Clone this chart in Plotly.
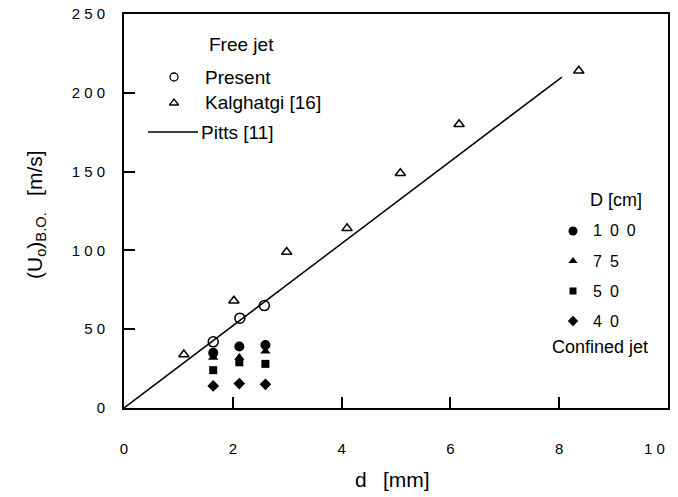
import plotly.graph_objects as go

# ---- data ----
present_d = [1.64, 2.13, 2.58]
present_u = [42, 57, 65]

kalghatgi_d = [1.10, 2.02, 2.99, 4.10, 5.08, 6.16, 8.36]
kalghatgi_u = [34, 68, 99, 114, 149, 180, 214]

pitts_d = [0, 8.05]
pitts_u = [0, 210]

confined_d = [1.64, 2.12, 2.60]
conf_100 = [35, 39, 40]
conf_75 = [32, 32, 36]
conf_50 = [24, 29, 28]
conf_40 = [14, 15.5, 15]

x_ticks = [0, 2, 4, 6, 8, 10]
x_ticktext = ["0", "2", "4", "6", "8", "1 0"]
y_ticks = [0, 50, 100, 150, 200, 250]
y_ticktext = ["0", "5 0", "1 0 0", "1 5 0", "2 0 0", "2 5 0"]

D_labels = ["1\u20020\u20020", "7\u20025", "5\u20020", "4\u20020"]

FONT = "Liberation Sans, Arial, Helvetica, sans-serif"
BLK = "black"

# plot area in pixels
L, R, T, B = 124, 668, 14, 408


def px(x):
    return (x - L) / (R - L)


def py(y):
    return (B - y) / (B - T)


fig = go.Figure()

fig.add_trace(go.Scatter(x=pitts_d, y=pitts_u, mode="lines",
                         line=dict(color=BLK, width=1.5), showlegend=False))
fig.add_trace(go.Scatter(x=kalghatgi_d, y=kalghatgi_u, mode="markers",
                         marker=dict(symbol="triangle-up-open", size=9, color=BLK,
                                     line=dict(width=1.5)), showlegend=False))
fig.add_trace(go.Scatter(x=present_d, y=present_u, mode="markers",
                         marker=dict(symbol="circle-open", size=10, color=BLK,
                                     line=dict(width=1.5)), showlegend=False))
sym = ["circle", "triangle-up", "square", "diamond"]
sizes = [10, 9, 8, 9]
for vals, s, sz in zip([conf_100, conf_75, conf_50, conf_40], sym, sizes):
    fig.add_trace(go.Scatter(x=confined_d, y=vals, mode="markers",
                             marker=dict(symbol=s, size=sz, color=BLK),
                             showlegend=False))

# ---- manual legend keys on a pixel-like overlay axis ----
fig.add_trace(go.Scatter(x=[174], y=[77], xaxis="x2", yaxis="y2", mode="markers",
                         marker=dict(symbol="circle-open", size=8, color=BLK, line=dict(width=1.3)),
                         showlegend=False))
fig.add_trace(go.Scatter(x=[174], y=[103], xaxis="x2", yaxis="y2", mode="markers",
                         marker=dict(symbol="triangle-up-open", size=8, color=BLK, line=dict(width=1.3)),
                         showlegend=False))
fig.add_trace(go.Scatter(x=[148, 198], y=[132, 132], xaxis="x2", yaxis="y2", mode="lines",
                         line=dict(color=BLK, width=1.3), showlegend=False))
ry = [231, 261, 291, 321]
for yy, s, sz in zip(ry, sym, [9, 8, 7, 8]):
    fig.add_trace(go.Scatter(x=[573], y=[yy], xaxis="x2", yaxis="y2", mode="markers",
                             marker=dict(symbol=s, size=sz, color=BLK), showlegend=False))

ann = []


def txt(x, y, t, size=19, xanchor="left", angle=0):
    ann.append(dict(x=px(x), y=py(y), xref="paper", yref="paper", text=t, showarrow=False,
                    xanchor=xanchor, yanchor="middle", textangle=angle,
                    font=dict(family=FONT, size=size, color=BLK)))


txt(241, 45, "Free jet", xanchor="center")
txt(203, 77, "Present")
txt(203, 103, "Kalghatgi [16]")
txt(199, 132, "Pitts [11]")
txt(616, 200, "D [cm]", size=18, xanchor="center")
for yy, lab in zip(ry, D_labels):
    txt(591, yy, lab, size=16)
txt(600, 347, "Confined jet", size=18, xanchor="center")

# last x tick label sits left of its tick (as in the reference)
txt(667, 448, x_ticktext[-1], size=15, xanchor="right")

# axis titles
txt(392, 479, "d\u2002 [mm]", size=21, xanchor="center")
txt(36, 215, "(U<sub>o</sub>)<sub>B.O.</sub>\u2002 [m/s]", size=21, xanchor="center", angle=-90)

fig.update_layout(
    width=678, height=497,
    margin=dict(l=L, r=678 - R, t=T, b=497 - B, autoexpand=False),
    paper_bgcolor="white", plot_bgcolor="white",
    font=dict(family=FONT, size=14, color=BLK),
    annotations=ann,
    showlegend=False,
    xaxis=dict(range=[0, 10], tickvals=x_ticks, ticktext=x_ticktext[:-1] + [""],
               ticks="inside", ticklen=11, tickwidth=1.5, tickcolor=BLK,
               showline=True, linecolor=BLK, linewidth=2, mirror=True,
               showgrid=False, zeroline=False, ticklabelstandoff=26,
               automargin=False, ticklabeloverflow="allow",
               tickfont=dict(family=FONT, size=15)),
    yaxis=dict(range=[0, 250], tickvals=y_ticks, ticktext=y_ticktext,
               ticks="inside", ticklen=11, tickwidth=1.5, tickcolor=BLK,
               showline=True, linecolor=BLK, linewidth=2, mirror=True,
               showgrid=False, zeroline=False, ticklabelstandoff=14,
               automargin=False, ticklabeloverflow="allow",
               tickfont=dict(family=FONT, size=15)),
    xaxis2=dict(range=[L, R], overlaying="x", visible=False, anchor="y2"),
    yaxis2=dict(range=[B, T], overlaying="y", visible=False, anchor="x2"),
)

fig.write_html("out.html")
